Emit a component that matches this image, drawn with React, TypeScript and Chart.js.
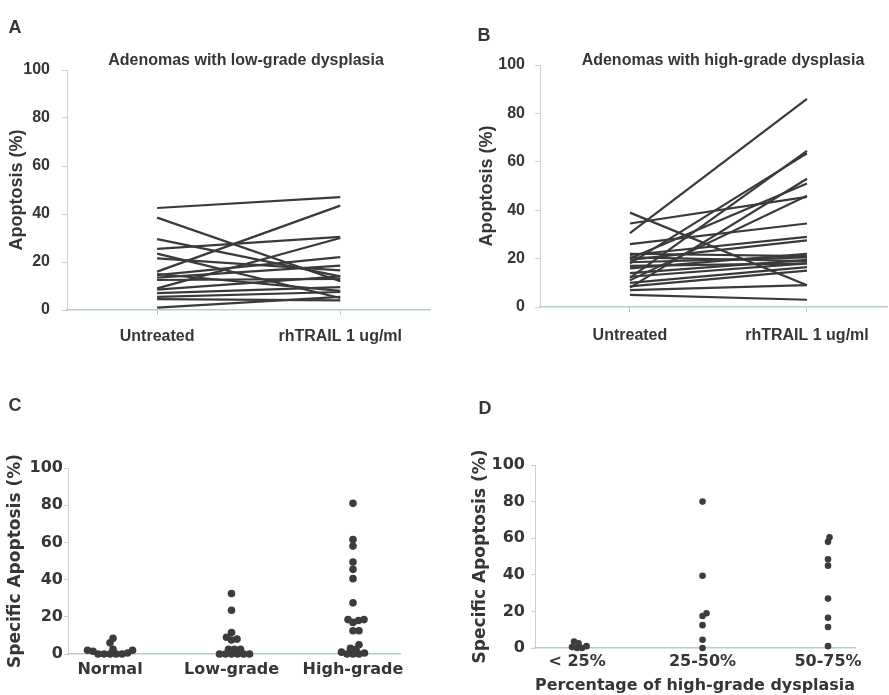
import React, { useEffect, useRef } from "react";
import { Chart, registerables } from "chart.js";

Chart.register(...registerables);

// ---------- data ----------
const pairCategories = ["Untreated", "rhTRAIL 1 ug/ml"];
const lowGradeUntreated = [42.5, 38.5, 29.5, 25.5, 16, 23.5, 21.5, 14.5, 13.5, 12.5, 9, 8.5, 7, 5.5, 4.5, 1, 15];
const lowGradeTrail = [47, 12, 14, 30.5, 43.5, 5, 16.5, 22, 18.5, 13, 30, 14, 9.5, 7.5, 4, 5.5, 8];
const highGradeUntreated = [30.5, 39, 34.5, 26, 12, 18, 8, 20, 11, 21.5, 19.5, 18.5, 16, 14, 12.5, 10, 8.5, 7, 5, 22, 20.5, 17];
const highGradeTrail = [86, 9, 45.5, 34.5, 64.5, 63.5, 53, 51, 46, 29, 27.5, 20.5, 22, 19.5, 18, 16.5, 15, 9, 3, 21, 19, 18];

const tissueCategories = ["Normal", "Low-grade", "High-grade"];
const normalApoptosis = [0, 0, 0, 0, 0, 0.5, 1.5, 2, 2, 2.5, 6, 8.5];
const lowGradeApoptosis = [0, 0, 0, 0, 0, 0, 2.5, 2.5, 2.5, 7.5, 8, 9, 11.5, 23.5, 32.5];
const highGradeApoptosis = [81, 61.5, 58, 49.5, 45.5, 40.5, 27.5, 18.5, 18.5, 18, 17, 12.5, 12.5, 5, 3, 2.5, 1, 0.5, 0, 0, 0];

const hgdCategories = ["< 25%", "25-50%", "50-75%"];
const hgdBelow25 = [0, 0, 0.5, 1, 2.5, 3.5];
const hgd25to50 = [80, 39.5, 19, 17.5, 12.5, 4.5, 0];
const hgd50to75 = [60.5, 58, 48.5, 45, 27, 16.5, 11.5, 1];

const yTickValues = [0, 20, 40, 60, 80, 100];

// ---------- styles ----------
const TEXT = "#363636";
const LINE = "#3a3a3a";
const DOT = "#3c3c3c";
const YAXIS = "#cfcfcf";
const XAXIS = "#b4ccd4";
const ARIAL = "'Liberation Sans', Arial, sans-serif";
const DEJAVU = "'DejaVu Sans', Verdana, sans-serif";

type Geom = {
  left: number; top: number; w: number; h: number;
  padL: number; padR: number; padT: number;
  yW: number; xH: number; xMin: number; xMax: number;
};

const geomA: Geom = { left: 0, top: 0, w: 440, h: 360, padL: 0, padR: 10, padT: 70, yW: 67, xH: 50, xMin: -0.492, xMax: 1.49 };
const geomB: Geom = { left: 440, top: 0, w: 449, h: 360, padL: 30, padR: 2, padT: 65, yW: 70, xH: 53, xMin: -0.508, xMax: 1.452 };
const geomC: Geom = { left: 0, top: 385, w: 440, h: 310, padL: 0, padR: 40, padT: 83, yW: 68, xH: 41, xMin: -0.346, xMax: 2.387 };
const geomD: Geom = { left: 440, top: 385, w: 449, h: 310, padL: 25, padR: 34, padT: 80, yW: 70, xH: 47, xMin: -0.335, xMax: 2.215 };

const textPlugin = {
  id: "panelText",
  afterDraw(chart: any, _args: any, opts: any) {
    const ctx = chart.ctx;
    (opts.items || []).forEach((t: any) => {
      ctx.save();
      ctx.font = t.font;
      ctx.fillStyle = t.color || TEXT;
      ctx.textAlign = t.align || "center";
      ctx.textBaseline = "middle";
      ctx.fillText(t.text, t.x, t.y);
      ctx.restore();
    });
  },
};

function plotSize(g: Geom) {
  const width = g.w - g.padL - g.padR - g.yW;
  const height = g.h - g.padT - g.xH;
  return { pxPerX: width / (g.xMax - g.xMin), pxPerY: height / 100 };
}

// beeswarm placement computed from the values
function swarm(values: number[], cat: number, g: Geom, diameter: number) {
  const { pxPerX, pxPerY } = plotSize(g);
  const placed: { dx: number; py: number }[] = [];
  const out: { x: number; y: number }[] = [];
  [...values].sort((a, b) => a - b).forEach((v) => {
    const py = v * pxPerY;
    let dx = 0;
    for (let step = 0; step < 600; step++) {
      const cand = step === 0 ? 0 : (step % 2 ? 1 : -1) * Math.ceil(step / 2) * 0.5;
      if (placed.every((p) => (p.dx - cand) ** 2 + (p.py - py) ** 2 >= diameter * diameter)) {
        dx = cand;
        break;
      }
    }
    placed.push({ dx, py });
    out.push({ x: cat + dx / pxPerX, y: v });
  });
  return out;
}

function baseOptions(g: Geom, items: any[]) {
  return {
    responsive: false,
    animation: false,
    events: [],
    layout: { padding: { left: g.padL, right: g.padR, top: g.padT, bottom: 0 } },
    plugins: {
      legend: { display: false },
      tooltip: { enabled: false },
      title: { display: false },
      panelText: { items },
    },
  };
}

function yScale(g: Geom, family: string, tickSize: number, tickLen: number, tickPad: number, title: string, titleSize: number, titlePad: number) {
  return {
    type: "linear",
    min: 0,
    max: 100,
    afterFit: (s: any) => { s.width = g.yW; },
    afterBuildTicks: (s: any) => { s.ticks = yTickValues.map((v) => ({ value: v })); },
    ticks: { font: { family, size: tickSize, weight: "bold" }, color: TEXT, padding: tickPad },
    grid: { drawOnChartArea: false, drawTicks: true, tickLength: tickLen, color: YAXIS },
    border: { color: YAXIS, width: 1 },
    title: { display: true, text: title, font: { family, size: titleSize, weight: "bold" }, color: TEXT, padding: { top: titlePad, bottom: 0 } },
  };
}

function pairConfig(untreated: number[], treated: number[], g: Geom, items: any[], yTickPad: number, yTitlePad: number, xTickPad: number) {
  const datasets = untreated.map((u, i) => ({
    data: [{ x: 0, y: u }, { x: 1, y: treated[i] }],
    borderColor: LINE,
    borderWidth: 2.2,
    pointRadius: 0,
    fill: false,
    tension: 0,
    clip: false,
  }));
  return {
    type: "line",
    data: { datasets },
    plugins: [textPlugin],
    options: {
      ...baseOptions(g, items),
      scales: {
        x: {
          type: "linear",
          min: g.xMin,
          max: g.xMax,
          afterFit: (s: any) => { s.height = g.xH; },
          afterBuildTicks: (s: any) => { s.ticks = pairCategories.map((_, i) => ({ value: i })); },
          ticks: {
            callback: (v: any) => pairCategories[v] ?? "",
            font: { family: ARIAL, size: 16, weight: "bold" },
            color: TEXT,
            padding: xTickPad,
            maxRotation: 0,
            autoSkip: false,
          },
          grid: { drawOnChartArea: false, drawTicks: true, tickLength: 5, color: XAXIS },
          border: { color: XAXIS, width: 1.5 },
        },
        y: yScale(g, ARIAL, 16, 5, yTickPad, "Apoptosis (%)", 18, yTitlePad),
      },
    },
  };
}

function dotConfig(groups: number[][], cats: string[], g: Geom, items: any[], radius: number, yTickPad: number, yTitlePad: number, xTickPad: number, xTitle?: string) {
  const datasets = groups.map((vals, ci) => ({
    data: swarm(vals, ci, g, radius * 1.45),
    backgroundColor: DOT,
    borderColor: DOT,
    borderWidth: 0,
    pointRadius: radius,
    clip: false,
  }));
  return {
    type: "scatter",
    data: { datasets },
    plugins: [textPlugin],
    options: {
      ...baseOptions(g, items),
      scales: {
        x: {
          type: "linear",
          min: g.xMin,
          max: g.xMax,
          afterFit: (s: any) => { s.height = g.xH; },
          afterBuildTicks: (s: any) => { s.ticks = cats.map((_, i) => ({ value: i })); },
          ticks: {
            callback: (v: any) => cats[v] ?? "",
            font: { family: DEJAVU, size: 16, weight: "bold" },
            color: TEXT,
            padding: xTickPad,
            maxRotation: 0,
            autoSkip: false,
          },
          grid: { drawOnChartArea: false, drawTicks: false, color: XAXIS },
          border: { color: XAXIS, width: 1.5 },
          title: xTitle
            ? { display: true, text: xTitle, font: { family: DEJAVU, size: 16, weight: "bold" }, color: TEXT, padding: { top: 0, bottom: 0 } }
            : { display: false },
        },
        y: yScale(g, DEJAVU, 16, 4, yTickPad, "Specific Apoptosis (%)", 17, yTitlePad),
      },
    },
  };
}

const letterFont = `bold 18px ${ARIAL}`;
const titleFont = `bold 16px ${ARIAL}`;

function ChartCanvas({ geom, build }: { geom: Geom; build: () => any }) {
  const ref = useRef<HTMLCanvasElement>(null);
  useEffect(() => {
    const chart = new Chart(ref.current as HTMLCanvasElement, build());
    return () => chart.destroy();
  }, []);
  return (
    <canvas
      ref={ref}
      width={geom.w}
      height={geom.h}
      style={{ position: "absolute", left: geom.left, top: geom.top, width: geom.w, height: geom.h }}
    />
  );
}

export default function App() {
  return (
    <div style={{ position: "absolute", left: 0, top: 0, width: 889, height: 695, background: "#fff", overflow: "hidden" }}>
      <ChartCanvas
        geom={geomA}
        build={() =>
          pairConfig(lowGradeUntreated, lowGradeTrail, geomA, [
            { text: "A", x: 15, y: 28, font: letterFont },
            { text: "Adenomas with low-grade dysplasia", x: 246, y: 61, font: titleFont },
          ], 12, 6, 12)
        }
      />
      <ChartCanvas
        geom={geomB}
        build={() =>
          pairConfig(highGradeUntreated, highGradeTrail, geomB, [
            { text: "B", x: 44, y: 36, font: letterFont },
            { text: "Adenomas with high-grade dysplasia", x: 283, y: 61, font: titleFont },
          ], 10, 6, 14)
        }
      />
      <ChartCanvas
        geom={geomC}
        build={() =>
          dotConfig([normalApoptosis, lowGradeApoptosis, highGradeApoptosis], tissueCategories, geomC, [
            { text: "C", x: 15, y: 21, font: letterFont },
          ], 3.8, 1, 5, 6)
        }
      />
      <ChartCanvas
        geom={geomD}
        build={() =>
          dotConfig([hgdBelow25, hgd25to50, hgd50to75], hgdCategories, geomD, [
            { text: "D", x: 45, y: 24, font: letterFont },
          ], 3.3, 6, 5, 4, "Percentage of high-grade dysplasia")
        }
      />
    </div>
  );
}
